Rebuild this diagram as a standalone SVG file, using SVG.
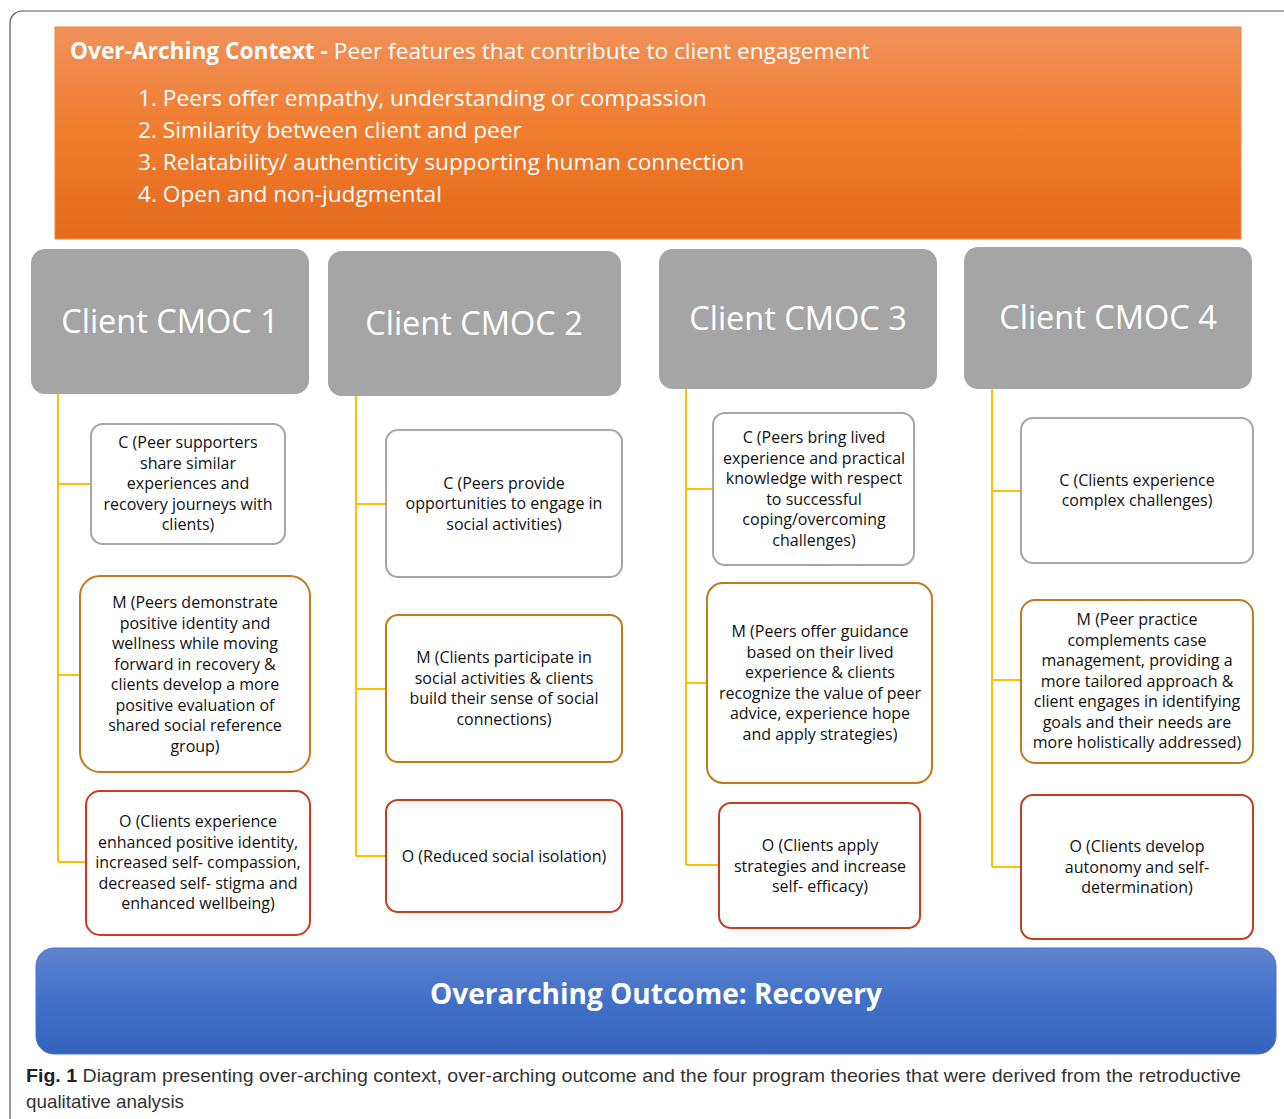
<svg xmlns="http://www.w3.org/2000/svg" width="1284" height="1119" viewBox="0 0 1284 1119">
<defs>
<linearGradient id="gOr" x1="0" y1="0" x2="0" y2="1"><stop offset="0" stop-color="#f0915a"/><stop offset="0.5" stop-color="#f07c2e"/><stop offset="1" stop-color="#e5691c"/></linearGradient>
<linearGradient id="gBl" x1="0" y1="0" x2="0" y2="1"><stop offset="0" stop-color="#5e84cd"/><stop offset="0.5" stop-color="#4170c9"/><stop offset="1" stop-color="#3462bc"/></linearGradient>
<style>
.hd{fill:#a5a5a5}
.ht{font-family:"Open Sans",sans-serif;font-size:32.5px;fill:#fff;text-anchor:middle}
.bx{fill:#fff;stroke-width:2}
.c{stroke:#a6a6a6}
.m{stroke:#c27a1a}
.o{stroke:#c23e1c}
.t{font-family:"Open Sans",sans-serif;font-size:16px;fill:#111;text-anchor:middle}
.ln{stroke:#ffc000;stroke-width:2;fill:none}
.ot{font-family:"Open Sans",sans-serif;font-size:22.7px;fill:#fff}
</style>
</defs>
<rect x="0" y="0" width="1284" height="1119" fill="#fff"/>
<rect x="10" y="11" width="1300" height="1130" rx="12" fill="none" stroke="#555" stroke-width="1.2"/>

<g id="context">
<rect x="55" y="27" width="1186" height="212" fill="url(#gOr)" stroke="#f08a40" stroke-width="1"/>
<text class="ot" x="70" y="59"><tspan font-weight="bold">Over-Arching Context -</tspan> Peer features that contribute to client engagement</text>
<text class="ot" x="138" y="106">1. Peers offer empathy, understanding or compassion</text>
<text class="ot" x="138" y="138">2. Similarity between client and peer</text>
<text class="ot" x="138" y="170">3. Relatability/ authenticity supporting human connection</text>
<text class="ot" x="138" y="202">4. Open and non-judgmental</text>
</g>

<g id="connectors">
<path class="ln" d="M58 394V862M58 484H91M58 675H80M58 862H86"/>
<path class="ln" d="M356 396V856M356 504H386M356 689H386M356 856H386"/>
<path class="ln" d="M686 389V865M686 489H713M686 683H707M686 865H719"/>
<path class="ln" d="M992 389V867M992 491H1021M992 680H1021M992 867H1021"/>
</g>

<g id="cmoc1">
<rect class="hd" x="31" y="249" width="278" height="145" rx="14"/>
<text class="ht" x="170" y="333">Client CMOC 1</text>
</g>
<g id="cmoc2">
<rect class="hd" x="328" y="251" width="293" height="145" rx="14"/>
<text class="ht" x="474" y="335">Client CMOC 2</text>
</g>
<g id="cmoc3">
<rect class="hd" x="659" y="249" width="278" height="140" rx="14"/>
<text class="ht" x="798" y="330">Client CMOC 3</text>
</g>
<g id="cmoc4">
<rect class="hd" x="964" y="247" width="288" height="142" rx="14"/>
<text class="ht" x="1108" y="329">Client CMOC 4</text>
</g>

<g id="c1">
<rect class="bx c" x="91" y="424" width="194" height="120" rx="12"/>
<text class="t"><tspan x="188" y="448">C (Peer supporters</tspan><tspan x="188" y="468.5">share similar</tspan><tspan x="188" y="489">experiences and</tspan><tspan x="188" y="509.5">recovery journeys with</tspan><tspan x="188" y="530">clients)</tspan></text>
</g>
<g id="m1">
<rect class="bx m" x="80" y="576" width="230" height="196" rx="20"/>
<text class="t"><tspan x="195" y="608">M (Peers demonstrate</tspan><tspan x="195" y="628.5">positive identity and</tspan><tspan x="195" y="649">wellness while moving</tspan><tspan x="195" y="669.5">forward in recovery &amp;</tspan><tspan x="195" y="690">clients develop a more</tspan><tspan x="195" y="710.5">positive evaluation of</tspan><tspan x="195" y="731">shared social reference</tspan><tspan x="195" y="751.5">group)</tspan></text>
</g>
<g id="o1">
<rect class="bx o" x="86" y="791" width="224" height="144" rx="14"/>
<text class="t"><tspan x="198" y="827">O (Clients experience</tspan><tspan x="198" y="847.5">enhanced positive identity,</tspan><tspan x="198" y="868">increased self- compassion,</tspan><tspan x="198" y="888.5">decreased self- stigma and</tspan><tspan x="198" y="909">enhanced wellbeing)</tspan></text>
</g>

<g id="c2">
<rect class="bx c" x="386" y="430" width="236" height="147" rx="12"/>
<text class="t"><tspan x="504" y="488.5">C (Peers provide</tspan><tspan x="504" y="509">opportunities to engage in</tspan><tspan x="504" y="529.5">social activities)</tspan></text>
</g>
<g id="m2">
<rect class="bx m" x="386" y="615" width="236" height="147" rx="12"/>
<text class="t"><tspan x="504" y="663">M (Clients participate in</tspan><tspan x="504" y="683.5">social activities &amp; clients</tspan><tspan x="504" y="704">build their sense of social</tspan><tspan x="504" y="724.5">connections)</tspan></text>
</g>
<g id="o2">
<rect class="bx o" x="386" y="800" width="236" height="112" rx="12"/>
<text class="t"><tspan x="504" y="861.5">O (Reduced social isolation)</tspan></text>
</g>

<g id="c3">
<rect class="bx c" x="713" y="413" width="201" height="152" rx="12"/>
<text class="t"><tspan x="814" y="443">C (Peers bring lived</tspan><tspan x="814" y="463.5">experience and practical</tspan><tspan x="814" y="484">knowledge with respect</tspan><tspan x="814" y="504.5">to successful</tspan><tspan x="814" y="525">coping/overcoming</tspan><tspan x="814" y="545.5">challenges)</tspan></text>
</g>
<g id="m3">
<rect class="bx m" x="707" y="583" width="225" height="200" rx="16"/>
<text class="t"><tspan x="820" y="637">M (Peers offer guidance</tspan><tspan x="820" y="657.5">based on their lived</tspan><tspan x="820" y="678">experience &amp; clients</tspan><tspan x="820" y="698.5">recognize the value of peer</tspan><tspan x="820" y="719">advice, experience hope</tspan><tspan x="820" y="739.5">and apply strategies)</tspan></text>
</g>
<g id="o3">
<rect class="bx o" x="719" y="803" width="201" height="125" rx="12"/>
<text class="t"><tspan x="820" y="851">O (Clients apply</tspan><tspan x="820" y="871.5">strategies and increase</tspan><tspan x="820" y="892">self- efficacy)</tspan></text>
</g>

<g id="c4">
<rect class="bx c" x="1021" y="418" width="232" height="145" rx="12"/>
<text class="t"><tspan x="1137" y="485.5">C (Clients experience</tspan><tspan x="1137" y="506">complex challenges)</tspan></text>
</g>
<g id="m4">
<rect class="bx m" x="1021" y="600" width="232" height="163" rx="14"/>
<text class="t"><tspan x="1137" y="625">M (Peer practice</tspan><tspan x="1137" y="645.5">complements case</tspan><tspan x="1137" y="666">management, providing a</tspan><tspan x="1137" y="686.5">more tailored approach &amp;</tspan><tspan x="1137" y="707">client engages in identifying</tspan><tspan x="1137" y="727.5">goals and their needs are</tspan><tspan x="1137" y="748">more holistically addressed)</tspan></text>
</g>
<g id="o4">
<rect class="bx o" x="1021" y="795" width="232" height="144" rx="12"/>
<text class="t"><tspan x="1137" y="852">O (Clients develop</tspan><tspan x="1137" y="872.5">autonomy and self-</tspan><tspan x="1137" y="893">determination)</tspan></text>
</g>

<g id="outcome">
<rect x="36" y="948" width="1240" height="106" rx="18" fill="url(#gBl)" stroke="#4a74c4" stroke-width="1"/>
<text x="656" y="1004" font-family="'Open Sans',sans-serif" font-size="29px" font-weight="bold" fill="#fff" text-anchor="middle" textLength="452" lengthAdjust="spacingAndGlyphs">Overarching Outcome: Recovery</text>
</g>

<g id="caption" font-family="'Liberation Sans',sans-serif" font-size="19px" fill="#333">
<text x="26" y="1082" textLength="1215" lengthAdjust="spacingAndGlyphs"><tspan font-weight="bold" fill="#222">Fig. 1</tspan>  Diagram presenting over-arching context, over-arching outcome and the four program theories that were derived from the retroductive</text>
<text x="26" y="1108" textLength="158" lengthAdjust="spacingAndGlyphs">qualitative analysis</text>
</g>
</svg>
